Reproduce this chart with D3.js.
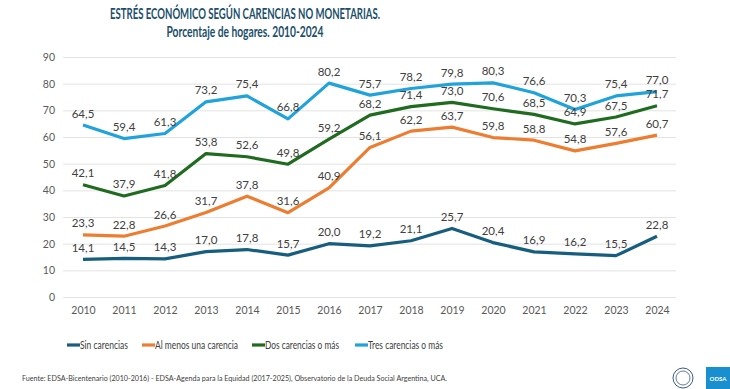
<!DOCTYPE html>
<html><head><meta charset="utf-8">
<script src="https://cdn.jsdelivr.net/npm/d3@7"></script>
<style>body{margin:0;background:#fff;}svg{display:block;font-family:Lato,"Open Sans",sans-serif;}</style>
</head><body>
<svg id="c" width="730" height="389"></svg>
<script>
const years = [2010,2011,2012,2013,2014,2015,2016,2017,2018,2019,2020,2021,2022,2023,2024];
const sinCarencias = [14.1,14.5,14.3,17.0,17.8,15.7,20.0,19.2,21.1,25.7,20.4,16.9,16.2,15.5,22.8];
const alMenosUna = [23.3,22.8,26.6,31.7,37.8,31.6,40.9,56.1,62.2,63.7,59.8,58.8,54.8,57.6,60.7];
const dosOMas = [42.1,37.9,41.8,53.8,52.6,49.8,59.2,68.2,71.4,73.0,70.6,68.5,64.9,67.5,71.7];
const tresOMas = [64.5,59.4,61.3,73.2,75.4,66.8,80.2,75.7,78.2,79.8,80.3,76.6,70.3,75.4,77.0];
const seriesNames = ["Sin carencias","Al menos una carencia","Dos carencias o más","Tres carencias o más"];
const colors = ["#175E7E","#ED7D31","#1F6B1F","#1FA3DA"];
const yTicks = [0,10,20,30,40,50,60,70,80,90];

const narrow = "'Liberation Sans Narrow','Arial Narrow',Lato,sans-serif";
const svg = d3.select("#c");
const x = d3.scalePoint().domain(years).range([83,657]);
const y = d3.scaleLinear().domain([0,90]).range([297,57]);

svg.append("text").attr("x",245).attr("y",19).attr("text-anchor","middle")
  .attr("font-size",15).attr("font-weight","bold").attr("fill","#1B4F6B").attr("font-family",narrow)
  .attr("textLength",270).attr("lengthAdjust","spacingAndGlyphs")
  .text("ESTRÉS ECONÓMICO SEGÚN CARENCIAS NO MONETARIAS.");
svg.append("text").attr("x",245).attr("y",37).attr("text-anchor","middle")
  .attr("font-size",15).attr("font-weight","bold").attr("fill","#1B4F6B").attr("font-family",narrow)
  .attr("textLength",157).attr("lengthAdjust","spacingAndGlyphs")
  .text("Porcentaje de hogares. 2010-2024");

// grid
const yAxis = d3.axisLeft(y).tickValues(yTicks).tickSize(-(676-63)).tickPadding(8);
const ga = svg.append("g").attr("transform","translate(63,0)").call(yAxis);
ga.select(".domain").remove();
ga.selectAll(".tick line").attr("stroke","#E3E3E3").attr("stroke-width",1);
ga.selectAll(".tick text").attr("fill","#595959").attr("font-size",10.5).attr("font-family","Lato,sans-serif");

const xAxis = d3.axisBottom(x).tickSize(0).tickPadding(10);
const gx = svg.append("g").attr("transform","translate(0,297)").call(xAxis);
gx.select(".domain").remove();
gx.selectAll(".tick text").attr("fill","#595959").attr("font-size",10.5).attr("font-family","Lato,sans-serif");

const allSeries = [sinCarencias, alMenosUna, dosOMas, tresOMas];
const line = d3.line().x((d,i)=>x(years[i])).y(d=>y(d));
const fmt = v => v.toFixed(1).replace(".",",");
allSeries.forEach((s,k)=>{
  svg.append("path").datum(s).attr("d",line).attr("fill","none")
    .attr("stroke",colors[k]).attr("stroke-width",3.2).attr("stroke-linejoin","round");
});
allSeries.forEach((s,k)=>{
  svg.append("g").selectAll("text").data(s).join("text")
    .attr("x",(d,i)=>x(years[i])).attr("y",d=>y(d)-7.5)
    .attr("text-anchor","middle").attr("font-size",11.5).attr("fill","#404040")
    .text(d=>fmt(d));
});

// legend
const legX = [67,142,252,355];
const legW = [48,83,74,75];
const lg = svg.append("g");
seriesNames.forEach((n,k)=>{
  lg.append("line").attr("x1",legX[k]).attr("x2",legX[k]+13).attr("y1",345).attr("y2",345)
    .attr("stroke",colors[k]).attr("stroke-width",3.2);
  lg.append("text").attr("x",legX[k]+13).attr("y",349).attr("font-size",12).attr("fill","#404040")
    .attr("font-family",narrow)
    .attr("textLength",legW[k]).attr("lengthAdjust","spacingAndGlyphs").text(n);
});

svg.append("text").attr("x",22).attr("y",381).attr("font-size",8).attr("fill","#404040")
  .attr("font-family",narrow)
  .attr("textLength",425).attr("lengthAdjust","spacingAndGlyphs")
  .text("Fuente: EDSA-Bicentenario (2010-2016) - EDSA-Agenda para la Equidad (2017-2025), Observatorio de la Deuda Social Argentina, UCA.");

// logos
const lgo = svg.append("g");
lgo.append("circle").attr("cx",683).attr("cy",378).attr("r",10).attr("fill","#fff").attr("stroke","#3A5A8C").attr("stroke-width",1);
lgo.append("circle").attr("cx",683).attr("cy",378).attr("r",7).attr("fill","none").attr("stroke","#3A5A8C").attr("stroke-width",0.8);
lgo.append("rect").attr("x",706).attr("y",367).attr("width",24).attr("height",22).attr("fill","#1A8FD0");
lgo.append("text").attr("x",718).attr("y",381).attr("text-anchor","middle").attr("font-size",6).attr("font-weight","bold").attr("fill","#fff").text("ODSA");
</script>
</body></html>
